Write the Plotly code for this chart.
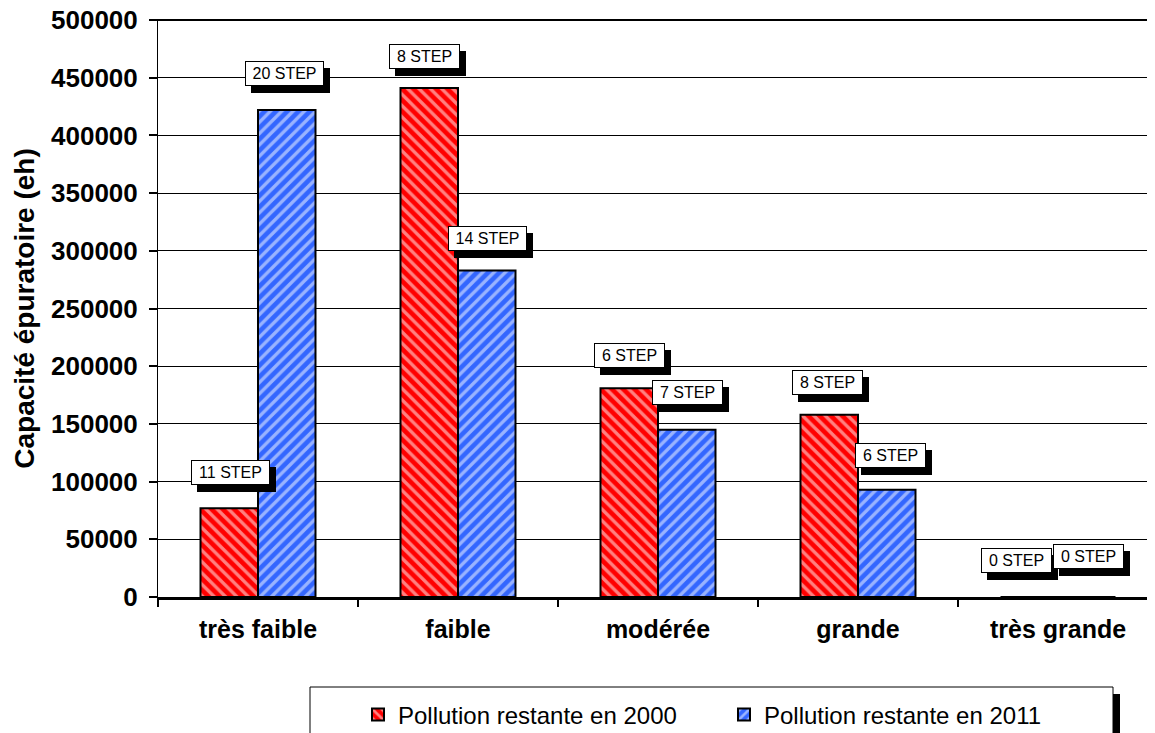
import plotly.graph_objects as go

# ---- data ----
categories = ["très faible", "faible", "modérée", "grande", "très grande"]
pollution_2000 = [77000, 441000, 181000, 158000, 0]
pollution_2011 = [422000, 283000, 145000, 93000, 0]
step_2000 = [11, 8, 6, 8, 0]
step_2011 = [20, 14, 7, 6, 0]
series_names = ["Pollution restante en 2000", "Pollution restante en 2011"]
y_ticks = list(range(0, 500001, 50000))

# ---- layout constants (pixels); the page body adds an 8px offset ----
OFF = 8
W, H = 1155 - OFF, 733 - OFF
ML, MR, MT, MB = 158 - OFF, 0, 20 - OFF, 136
PW, PH = W - ML - MR, H - MT - MB

def px_x(p):
    """screen pixel -> paper x"""
    return (p - OFF - ML) / PW

def px_y(p):
    """screen pixel -> paper y"""
    return (OFF + H - MB - p) / PH

RED = "#FF0000"
BLUE = "#3366FF"
FONT = "Liberation Sans, Arial, sans-serif"

fig = go.Figure()
fig.add_trace(go.Bar(
    x=categories, y=pollution_2000, name=series_names[0],
    marker=dict(color=RED, line=dict(color="black", width=2),
                pattern=dict(shape="\\", bgcolor=RED, fgcolor="white", size=8, solidity=0.42)),
))
fig.add_trace(go.Bar(
    x=categories, y=pollution_2011, name=series_names[1],
    marker=dict(color=BLUE, line=dict(color="black", width=2),
                pattern=dict(shape="/", bgcolor=BLUE, fgcolor="white", size=8, solidity=0.42)),
))

# label boxes ("N STEP") with drop shadow
nudge_2000 = [(1, 1), (-5, -3), (0, -2), (-2, -3), (-13, 2)]
nudge_2011 = [(-3, 2), (0, -3), (0, 2), (3, -1), (1, 6)]
annotations = []
for i, cat in enumerate(categories):
    for vals, steps, side, nudge in ((pollution_2000, step_2000, -29, nudge_2000),
                                      (pollution_2011, step_2011, 29, nudge_2011)):
        txt = f"{steps[i]} STEP"
        w = 71 if steps[i] >= 10 else 63
        xs = side + nudge[i][0]
        ys = 35 + nudge[i][1]
        common = dict(x=cat, y=vals[i], xref="x", yref="y", showarrow=False,
                      width=w, height=17, borderpad=3, borderwidth=1, align="center",
                      font=dict(family=FONT, size=16, color="black"))
        annotations.append(dict(text=" ", xshift=xs + 6, yshift=ys - 7,
                                bgcolor="black", bordercolor="black", **common))
        annotations.append(dict(text=txt, xshift=xs, yshift=ys,
                                bgcolor="white", bordercolor="black", **common))

shapes = [
    # thicker top border line
    dict(type="line", xref="paper", yref="paper", x0=px_x(150), x1=1, y0=1, y1=1,
         line=dict(color="black", width=2), layer="above"),
    # legend box shadow + box
    dict(type="rect", xref="paper", yref="paper", x0=px_x(317), x1=px_x(1120),
         y0=px_y(694), y1=px_y(760), fillcolor="black", line=dict(width=0), layer="above"),
    dict(type="rect", xref="paper", yref="paper", x0=px_x(310), x1=px_x(1113),
         y0=px_y(687), y1=px_y(760), fillcolor="white", line=dict(color="black", width=1),
         layer="above"),
]

fig.update_layout(
    width=W, height=H,
    margin=dict(l=ML, r=MR, t=MT, b=MB, pad=0),
    paper_bgcolor="white", plot_bgcolor="white",
    barmode="group", bargap=0.425, bargroupgap=0,
    font=dict(family=FONT, color="black"),
    annotations=annotations,
    shapes=shapes,
    showlegend=True,
    legend=dict(orientation="h", xref="container", yref="container",
                x=350 / W, y=(H - (715 - OFF)) / H, xanchor="left", yanchor="middle",
                bgcolor="rgba(0,0,0,0)", borderwidth=0,
                font=dict(family=FONT, size=24, color="black"),
                entrywidth=321, entrywidthmode="pixels", traceorder="normal"),
    xaxis=dict(
        type="category", range=[-0.5, 4.485], automargin=False,
        showline=True, linecolor="black", linewidth=3,
        ticks="outside", tickson="boundaries", ticklen=7, tickwidth=2, tickcolor="black",
        showgrid=False, ticklabelstandoff=8,
        tickfont=dict(family=FONT, size=25, color="black", weight="bold"),
    ),
    yaxis=dict(
        range=[0, 500000], automargin=False,
        tickvals=y_ticks, ticktext=[str(v) for v in y_ticks],
        ticklabeloverflow="allow",
        showline=True, linecolor="black", linewidth=1,
        ticks="outside", ticklen=8, tickwidth=2, tickcolor="black",
        showgrid=True, gridcolor="black", gridwidth=1, zeroline=False,
        ticklabelstandoff=6,
        tickfont=dict(family=FONT, size=26, color="black", weight="bold"),
        title=dict(text="Capacité épuratoire (eh)", standoff=8,
                   font=dict(family=FONT, size=28, color="black", weight="bold")),
    ),
)

fig.write_html("out.html")
